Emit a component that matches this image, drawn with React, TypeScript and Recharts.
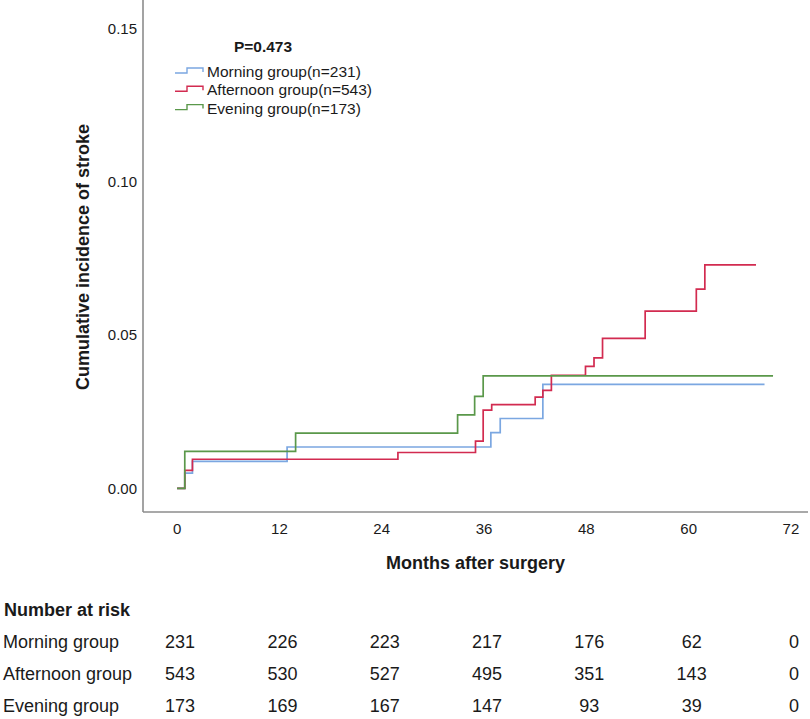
import React from 'react'
import { LineChart, Line, XAxis, YAxis, Legend } from 'recharts'

// months after surgery / cumulative incidence
const morning = [
  { m: 0, v: 0 },
  { m: 0.9, v: 0.005 },
  { m: 1.8, v: 0.0088 },
  { m: 12.9, v: 0.0135 },
  { m: 36.8, v: 0.0182 },
  { m: 37.9, v: 0.0228 },
  { m: 42.9, v: 0.0339 },
  { m: 68.9, v: 0.0339 },
]

const afternoon = [
  { m: 0, v: 0 },
  { m: 0.9, v: 0.0059 },
  { m: 1.8, v: 0.0095 },
  { m: 25.9, v: 0.0117 },
  { m: 35.0, v: 0.0154 },
  { m: 35.9, v: 0.0255 },
  { m: 36.9, v: 0.0273 },
  { m: 42.0, v: 0.0298 },
  { m: 42.9, v: 0.032 },
  { m: 43.9, v: 0.0369 },
  { m: 47.9, v: 0.0398 },
  { m: 48.9, v: 0.0426 },
  { m: 49.9, v: 0.0489 },
  { m: 54.9, v: 0.0578 },
  { m: 60.9, v: 0.065 },
  { m: 61.9, v: 0.0729 },
  { m: 67.9, v: 0.0729 },
]

const evening = [
  { m: 0, v: 0 },
  { m: 0.9, v: 0.0121 },
  { m: 13.9, v: 0.018 },
  { m: 32.9, v: 0.024 },
  { m: 34.9, v: 0.03 },
  { m: 35.9, v: 0.0367 },
  { m: 69.9, v: 0.0367 },
]

const monthTicks = [0, 12, 24, 36, 48, 60, 72]
const yTicks = [0, 0.05, 0.1, 0.15]

const morningRisk = [231, 226, 223, 217, 176, 62, 0]
const afternoonRisk = [543, 530, 527, 495, 351, 143, 0]
const eveningRisk = [173, 169, 167, 147, 93, 39, 0]

const groups = [
  { key: 'morning', name: 'Morning group', n: 231, color: '#7ba7e1', data: morning, risk: morningRisk },
  { key: 'afternoon', name: 'Afternoon group', n: 543, color: '#d22b50', data: afternoon, risk: afternoonRisk },
  { key: 'evening', name: 'Evening group', n: 173, color: '#5a984a', data: evening, risk: eveningRisk },
]

const FONT = '"Liberation Sans", Arial, Helvetica, sans-serif'
const TEXT = '#1a1a1a'

// legend drawn from the groups list so the order stays Morning / Afternoon / Evening
const renderLegend = () => (
  <svg width={230} height={92} style={{ fontFamily: FONT }}>
    <text x={93} y={21} textAnchor="middle" fontSize={15.5} fontWeight="bold" fill={TEXT}>
      P=0.473
    </text>
    {groups.map((g, i) => {
      const y = 46 + i * 18.3
      return (
        <g key={g.key}>
          <path
            d={`M5,${y - 4} H17 V${y - 9} H33 V${y - 5}`}
            fill="none"
            stroke={g.color}
            strokeWidth={1.4}
          />
          <text x={37} y={y} fontSize={15.5} fill={TEXT}>
            {`${g.name}(n=${g.n})`}
          </text>
        </g>
      )
    })}
  </svg>
)

const riskTick = (risk: number[]) => (props: any) => {
  const { x, y, payload } = props
  const idx = monthTicks.indexOf(payload.value)
  return (
    <text x={x + 3} y={y + 24} textAnchor="middle" fontSize={18} fill={TEXT} fontFamily={FONT}>
      {idx >= 0 ? risk[idx] : ''}
    </text>
  )
}

const riskLabel = (name: string) => (props: any) => {
  const vb = props.viewBox || {}
  return (
    <text x={3} y={vb.y + 24} fontSize={18} fill={TEXT} fontFamily={FONT}>
      {name}
    </text>
  )
}

export default function App() {
  return (
    <div style={{ position: 'absolute', left: 0, top: 0, width: 810, height: 719, background: '#fff' }}>
      <LineChart
        width={810}
        height={719}
        margin={{ top: 0, right: 2, bottom: 0, left: 0 }}
        style={{ fontFamily: FONT }}
      >
        <XAxis
          xAxisId="a0"
          type="number"
          dataKey="m"
          domain={[-4, 74]}
          ticks={monthTicks}
          interval={0}
          allowDataOverflow
          height={112}
          tickLine={false}
          tickSize={0}
          tickMargin={0}
          axisLine={{ stroke: '#8c8c8c', strokeWidth: 1.6 }}
          tick={(p: any) => (
            <text x={p.x} y={p.y + 21.5} textAnchor="middle" fontSize={15} fill={TEXT} fontFamily={FONT}>
              {p.payload.value}
            </text>
          )}
          label={(p: any) => {
            const vb = p.viewBox || {}
            return (
              <g fontFamily={FONT} fill={TEXT} fontWeight="bold" fontSize={18}>
                <text x={vb.x + vb.width / 2} y={vb.y + 57} textAnchor="middle">
                  Months after surgery
                </text>
                <text x={4} y={vb.y + 104}>
                  Number at risk
                </text>
              </g>
            )
          }}
        />
        {groups.map((g, i) => (
          <XAxis
            key={g.key}
            xAxisId={'a' + (i + 1)}
            type="number"
            dataKey="m"
            domain={[-4, 74]}
            ticks={monthTicks}
            interval={0}
            allowDataOverflow
            height={i === 2 ? 31 : 32}
            axisLine={false}
            tickLine={false}
            tickSize={0}
            tickMargin={0}
            tick={riskTick(g.risk)}
            label={riskLabel(g.name)}
          />
        ))}
        <YAxis
          type="number"
          domain={[-0.0077, 0.1593]}
          ticks={yTicks}
          interval={0}
          allowDataOverflow
          width={143}
          tickLine={false}
          tickSize={0}
          tickMargin={6}
          axisLine={{ stroke: '#8c8c8c', strokeWidth: 1.6 }}
          tick={(p: any) => (
            <text x={p.x} y={p.y} dy="0.36em" textAnchor="end" fontSize={15} fill={TEXT} fontFamily={FONT}>
              {p.payload.value.toFixed(2)}
            </text>
          )}
          label={() => (
            <text
              x={88.5}
              y={257}
              transform="rotate(-90 88.5 257)"
              textAnchor="middle"
              fontSize={18}
              fontWeight="bold"
              fill={TEXT}
              fontFamily={FONT}
            >
              Cumulative incidence of stroke
            </text>
          )}
        />
        <Legend
          layout="vertical"
          align="center"
          verticalAlign="middle"
          content={renderLegend}
          wrapperStyle={{ top: 31, left: 170, width: 230, height: 92 }}
        />
        {groups.map((g) => (
          <Line
            key={g.key}
            xAxisId="a0"
            data={g.data}
            dataKey="v"
            name={`${g.name}(n=${g.n})`}
            type="stepAfter"
            stroke={g.color}
            strokeWidth={1.7}
            dot={false}
            activeDot={false}
            isAnimationActive={false}
          />
        ))}
        {/* invisible copies tie each risk-table axis to data so its ticks are computed */}
        {groups.map((g, i) => (
          <Line
            key={'r-' + g.key}
            xAxisId={'a' + (i + 1)}
            data={g.data}
            dataKey="v"
            stroke="none"
            dot={false}
            activeDot={false}
            legendType="none"
            isAnimationActive={false}
          />
        ))}
      </LineChart>
    </div>
  )
}
